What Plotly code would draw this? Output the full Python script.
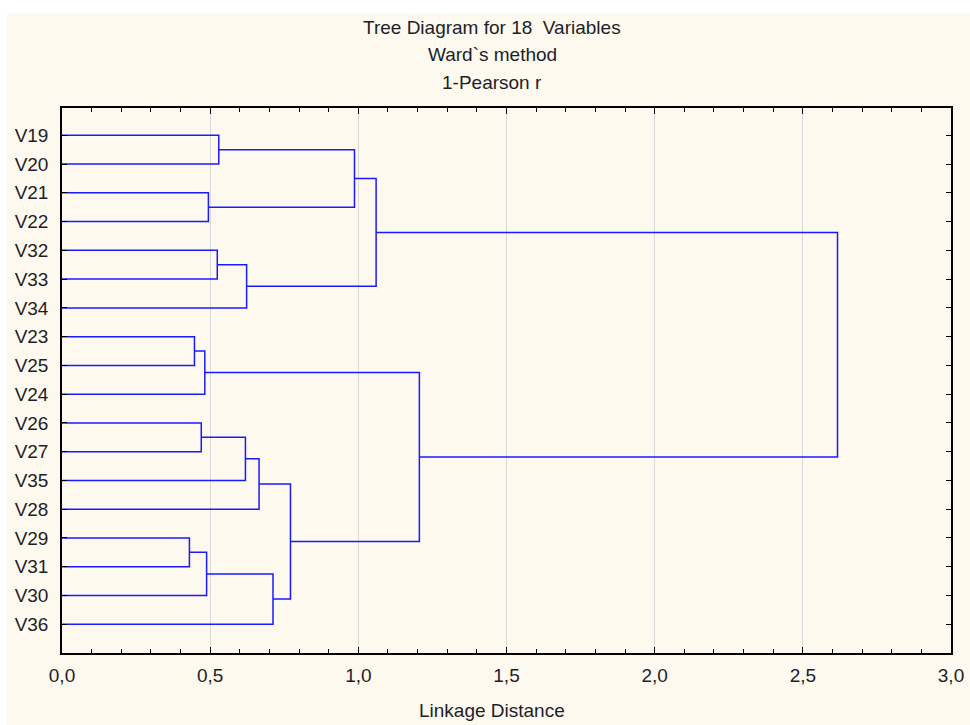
import plotly.graph_objects as go

# ---- data ----
leaf_labels = ["V19", "V20", "V21", "V22", "V32", "V33", "V34", "V23", "V25",
               "V24", "V26", "V27", "V35", "V28", "V29", "V31", "V30", "V36"]
# merges: child ids (0..17 leaves, 18+ = earlier merges), linkage distance
merge_left = [0, 2, 18, 4, 21, 20, 7, 24, 10, 26, 27, 14, 29, 30, 28, 25, 23]
merge_right = [1, 3, 19, 5, 6, 22, 8, 9, 11, 12, 13, 15, 16, 17, 31, 32, 33]
merge_height = [0.529, 0.494, 0.987, 0.524, 0.623, 1.060, 0.447, 0.482, 0.470,
                0.619, 0.665, 0.430, 0.488, 0.712, 0.771, 1.206, 2.617]
x_ticks = [0.0, 0.5, 1.0, 1.5, 2.0, 2.5, 3.0]
titles = ["Tree Diagram for 18  Variables", "Ward`s method", "1-Pearson r"]
x_title = "Linkage Distance"

# ---- build dendrogram paths ----
n = len(leaf_labels)
pos_y = {i: i + 1 for i in range(n)}
pos_x = {i: 0.0 for i in range(n)}
xs, ys = [], []
for k, (a, b, h) in enumerate(zip(merge_left, merge_right, merge_height)):
    xs += [pos_x[a], h, h, pos_x[b], None]
    ys += [pos_y[a], pos_y[a], pos_y[b], pos_y[b], None]
    cid = n + k
    pos_x[cid] = h
    pos_y[cid] = (pos_y[a] + pos_y[b]) / 2.0

fig = go.Figure()
fig.add_trace(go.Scatter(x=xs, y=ys, mode="lines",
                         line=dict(color="#1a1aff", width=1.5),
                         hoverinfo="skip", showlegend=False))

font_family = "Liberation Sans, Arial, sans-serif"
text_color = "#1e1e2a"
FS = 19

W, H = 970, 725
L, R, T, B = 62, 19, 108, 72
PW = W - L - R
PH = H - T - B


def px_x(p):
    return (p - L) / PW


def px_y(p):
    return (H - B - p) / PH


fig.update_layout(
    width=W, height=H,
    margin=dict(l=L, r=R, t=T, b=B, autoexpand=False),
    paper_bgcolor="white",
    plot_bgcolor="white",
    separators=",.",
    font=dict(family=font_family, size=FS, color=text_color),
    showlegend=False,
    shapes=[dict(type="rect", xref="paper", yref="paper",
                 x0=px_x(7), x1=px_x(W + 5),
                 y0=px_y(H + 5), y1=px_y(13),
                 fillcolor="#fdf9ee", line=dict(width=0), layer="below")],
)

fig.update_xaxes(
    range=[0, 3.0], tickvals=x_ticks, tickformat=".1f", automargin=False,
    ticks="inside", ticklen=6, tickcolor="black", tickwidth=1.2,
    minor=dict(dtick=0.1, ticks="inside", ticklen=4, tickcolor="black",
               showgrid=False),
    showgrid=True, gridcolor="#d9d9d9", gridwidth=1,
    showline=True, linecolor="black", linewidth=1.5, mirror="ticks",
    zeroline=False, ticklabelstandoff=4,
    tickfont=dict(size=FS, color=text_color),
)
fig.update_yaxes(
    range=[19.0, 0.05], tickvals=list(range(1, n + 1)), ticktext=leaf_labels,
    automargin=False,
    ticks="inside", ticklen=5, tickcolor="black", tickwidth=1.2,
    showgrid=False, zeroline=False,
    showline=True, linecolor="black", linewidth=1.5, mirror="ticks",
    ticklabelstandoff=8,
    tickfont=dict(size=FS, color=text_color),
)

title_y = [27, 54, 82]
for t, yy in zip(titles, title_y):
    fig.add_annotation(text=t, xref="paper", yref="paper",
                       x=px_x(492), y=px_y(yy),
                       showarrow=False, xanchor="center", yanchor="middle",
                       font=dict(size=FS, color=text_color, family=font_family))

fig.add_annotation(text=x_title, xref="paper", yref="paper",
                   x=px_x(492), y=px_y(710),
                   showarrow=False, xanchor="center", yanchor="middle",
                   font=dict(size=FS, color=text_color, family=font_family))

fig.write_html(
    "out.html",
    config={"displayModeBar": False},
    post_script=("document.body.style.margin='0';"
                 "document.documentElement.style.overflow='hidden';"),
)
